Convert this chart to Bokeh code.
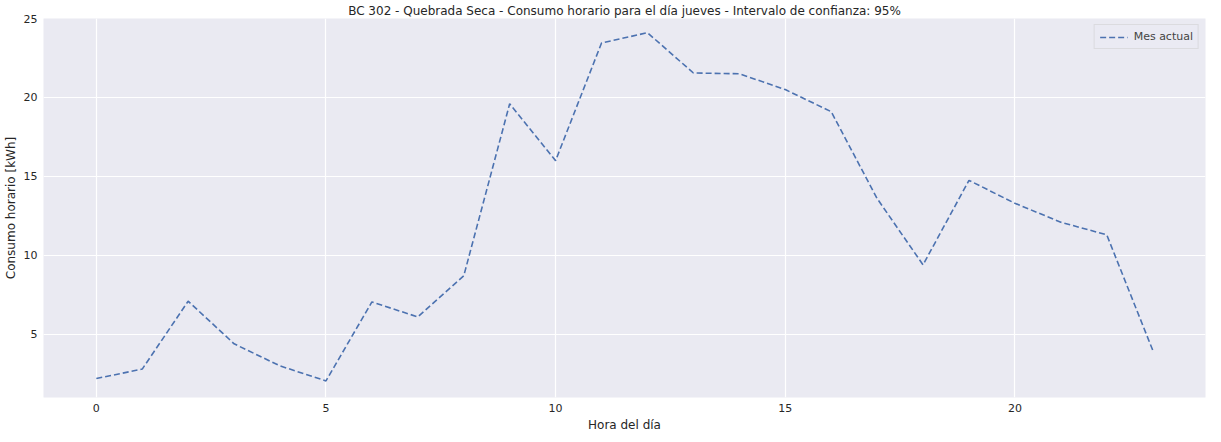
from bokeh.plotting import figure
from bokeh.models import Range1d, Legend, LegendItem
from bokeh.embed import file_html
from bokeh.resources import INLINE

hours = list(range(24))
consumo = [2.2, 2.8, 7.1, 4.4, 3.0, 2.05, 7.05, 6.1, 8.7, 19.6, 16.0, 23.45,
           24.1, 21.55, 21.5, 20.5, 19.1, 13.6, 9.4, 14.75, 13.3, 12.1, 11.3, 4.0]

p = figure(width=1209, height=434, output_backend="svg", toolbar_location=None,
           title="BC 302 - Quebrada Seca - Consumo horario para el día jueves - Intervalo de confianza: 95%",
           x_axis_label="Hora del día", y_axis_label="Consumo horario [kWh]",
           min_border_left=37, min_border_right=4, min_border_top=10, min_border_bottom=30)
p.x_range = Range1d(-1.15, 24.15)
p.y_range = Range1d(1.0, 25.0)
p.background_fill_color = "#eaeaf2"
p.outline_line_color = None
p.title.align = "center"
p.title.text_font = "DejaVu Sans"
p.title.text_font_style = "normal"
p.title.text_font_size = "12px"
p.title.text_color = "#262626"
p.title.standoff = 2
for ax in (p.xaxis, p.yaxis):
    ax.axis_line_color = None
    ax.major_tick_line_color = None
    ax.minor_tick_line_color = None
    ax.major_tick_out = 0
    ax.major_tick_in = 0
    ax.major_label_standoff = 6
    ax.major_label_text_font = "DejaVu Sans"
    ax.major_label_text_font_size = "11px"
    ax.major_label_text_color = "#262626"
    ax.axis_label_text_font = "DejaVu Sans"
    ax.axis_label_text_font_style = "normal"
    ax.axis_label_text_font_size = "12px"
    ax.axis_label_text_color = "#262626"
    ax.axis_label_standoff = 3
p.xaxis.ticker = [0, 5, 10, 15, 20]
p.yaxis.ticker = [5, 10, 15, 20, 25]
p.grid.grid_line_color = "white"
p.grid.grid_line_width = 1.2

r = p.line(hours, consumo, line_color="#4c72b0", line_width=1.6, line_dash="6 3")
legend = Legend(items=[LegendItem(label="Mes actual", renderers=[r])], location="top_right",
                background_fill_color="#eaeaf2", border_line_color="#cccccc",
                label_text_font="DejaVu Sans", label_text_font_size="11px",
                glyph_width=28, glyph_height=12, padding=5, margin=6, label_standoff=6)
p.add_layout(legend)

open("out.html", "w").write(file_html(p, INLINE))
